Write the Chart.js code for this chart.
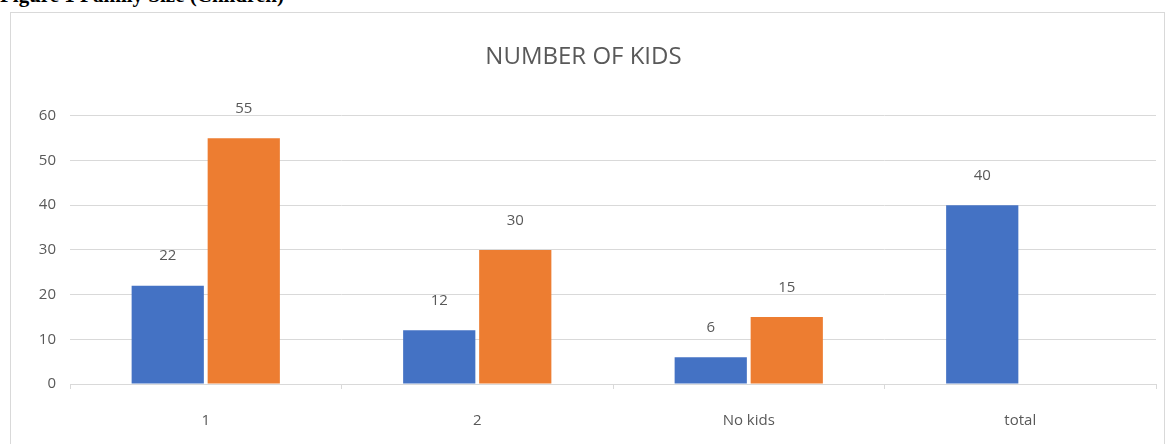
<!DOCTYPE html>
<html>
<head>
<meta charset="utf-8">
<script src="https://cdn.jsdelivr.net/npm/chart.js@4.4.0/dist/chart.umd.min.js"></script>
<style>
  body { margin: 0; background: #fff; overflow: hidden; }
  #caption {
    position: absolute; left: 0; top: -17px;
    font: bold 21px "Liberation Serif", serif; color: #000; white-space: nowrap;
  }
  #box {
    position: absolute; left: 10px; top: 12px; width: 1155px; height: 445px;
    border: 1px solid #d9d9d9; box-sizing: border-box;
  }
  #chart { display: block; }
</style>
</head>
<body>
<div id="caption">Figure 1 Family Size (Children)</div>
<div id="box"><canvas id="chart" width="1153" height="443"></canvas></div>
<script>
const categories = ['1', '2', 'No kids', 'total'];
const seriesA = [22, 12, 6, 40];
const seriesB = [55, 30, 15, null];
const yTicks = [0, 10, 20, 30, 40, 50, 60];

const textColor = '#595959';
const gridColor = '#d9d9d9';

const valueLabels = {
    id: 'valueLabels',
    afterDatasetsDraw(chart) {
        const ctx = chart.ctx;
        ctx.save();
        ctx.font = '15px "Open Sans", sans-serif';
        ctx.fillStyle = textColor;
        ctx.textAlign = 'center';
        ctx.textBaseline = 'bottom';
        chart.data.datasets.forEach((ds, i) => {
            chart.getDatasetMeta(i).data.forEach((bar, j) => {
                if (ds.data[j] === null) return;
                ctx.fillText(ds.data[j], bar.x, bar.y - 22);
            });
        });
        ctx.restore();
    }
};

new Chart(document.getElementById('chart'), {
    type: 'bar',
    data: {
        labels: categories,
        datasets: [
            { label: 'A', data: seriesA, backgroundColor: '#4472c4' },
            { label: 'B', data: seriesB, backgroundColor: '#ed7d31' },
        ],
    },
    options: {
        responsive: false,
        animation: false,
        devicePixelRatio: 1,
        datasets: { bar: { categoryPercentage: 0.56, barPercentage: 0.95 } },
        layout: { padding: { left: 0, right: 8, top: 0, bottom: 3 } },
        plugins: {
            legend: { display: false },
            tooltip: { enabled: false },
            title: {
                display: true,
                text: 'NUMBER OF KIDS',
                color: textColor,
                font: { family: '"Open Sans", sans-serif', size: 24, weight: 'normal' },
                padding: { top: 30, bottom: 44 },
            },
        },
        scales: {
            x: {
                grid: { display: true, drawOnChartArea: false, color: gridColor, tickLength: 5 },
                border: { color: gridColor },
                ticks: { color: textColor, font: { family: '"Open Sans", sans-serif', size: 15 }, padding: 23 },
            },
            y: {
                min: 0,
                max: 60,
                afterFit(scale) { scale.width = 59; },
                afterBuildTicks(scale) { scale.ticks = yTicks.map(v => ({ value: v })); },
                grid: { color: gridColor, drawTicks: false },
                border: { display: false },
                ticks: { color: textColor, font: { family: '"Open Sans", sans-serif', size: 15 }, padding: 14 },
            },
        },
    },
    plugins: [valueLabels],
});
</script>
</body>
</html>
